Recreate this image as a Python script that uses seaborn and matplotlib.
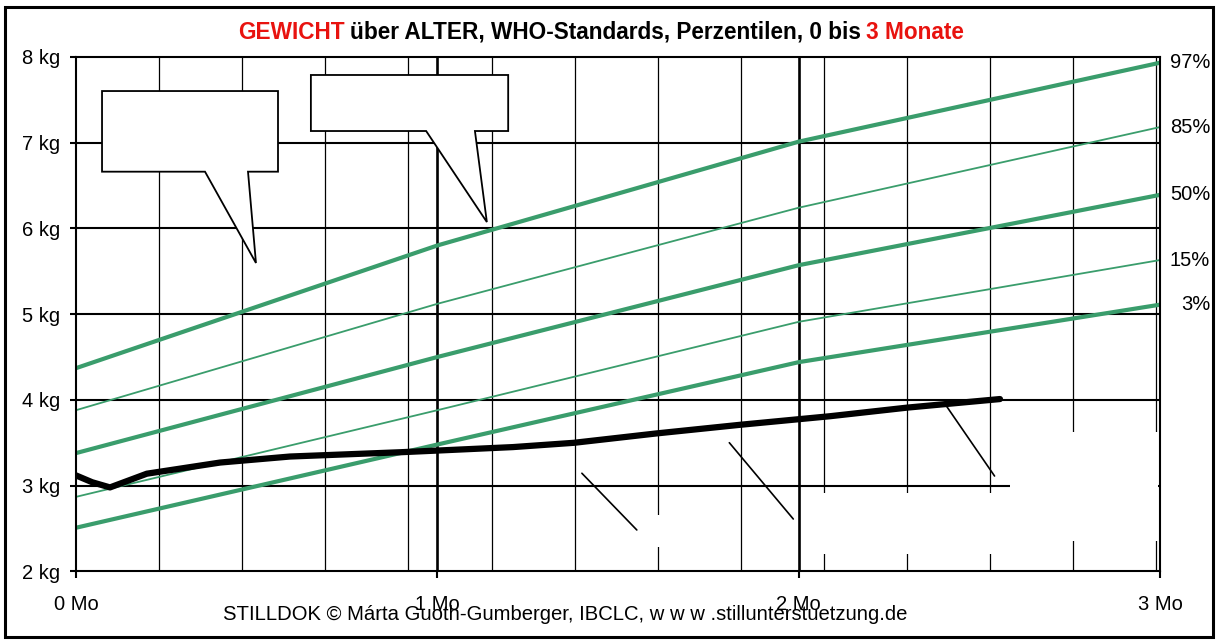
import matplotlib
matplotlib.use("Agg")
import matplotlib.pyplot as plt
from matplotlib.patches import Polygon, Rectangle
import pandas as pd
import seaborn as sns

# WHO-Perzentilen (kg) über Alter (Monate)
pct_months = [0, 1, 2, 3]
p97 = [4.37, 5.80, 7.01, 7.93]
p85 = [3.88, 5.12, 6.24, 7.18]
p50 = [3.38, 4.50, 5.57, 6.39]
p15 = [2.87, 3.88, 4.91, 5.63]
p3 = [2.51, 3.48, 4.44, 5.11]
pct_names = ["97%", "85%", "50%", "15%", "3%"]

# gemessenes Gewicht des Kindes
weight_months = [0.0, 0.045, 0.094, 0.196, 0.399, 0.592, 0.897, 1.002,
                 1.209, 1.378, 1.608, 1.838, 2.087, 2.300, 2.557]
weight_kg = [3.12, 3.04, 2.98, 3.14, 3.27, 3.34, 3.39, 3.41,
             3.45, 3.50, 3.61, 3.71, 3.81, 3.91, 4.01]

y_ticks = [2, 3, 4, 5, 6, 7, 8]
y_labels = [f"{v} kg" for v in y_ticks]
x_ticks = [0, 1, 2, 3]
x_labels = ["0 Mo", "1 Mo", "2 Mo", "3 Mo"]

GREEN = "#3A9D6C"
RED = "#E8130F"
sns.set_theme(style="white", rc={"text.color": "black",
                                 "xtick.color": "black",
                                 "ytick.color": "black"})
plt.rcParams["font.family"] = ["Liberation Sans", "DejaVu Sans"]

fig = plt.figure(figsize=(12.22, 6.43), dpi=100)
ax = fig.add_axes([0.0622, 0.1112, 0.8871, 0.8006])

# Raster: Wochenlinien, Monatslinien, kg-Linien
for w in range(1, 14):
    ax.axvline(w * 7 / 30.4375, color="black", lw=0.9, zorder=1)
for m in [1, 2]:
    ax.axvline(m, color="black", lw=1.9, zorder=1)
for kg in [3, 4, 5, 6, 7]:
    ax.axhline(kg, color="black", lw=1.5, zorder=1)

# weisse (leere) Textfelder
for x0, x1, y0, y1 in [(1.575, 1.82, 2.286, 2.659),
                       (2.012, 2.585, 2.204, 2.915),
                       (2.585, 2.994, 2.356, 3.626)]:
    ax.add_patch(Rectangle((x0, y0), x1 - x0, y1 - y0, facecolor="white",
                           edgecolor="none", zorder=1.5))

# Perzentilkurven
df = pd.DataFrame({"Monat": pct_months * 5,
                   "kg": p97 + p85 + p50 + p15 + p3,
                   "P": sum([[n] * len(pct_months) for n in pct_names], [])})
widths = {"97%": 3.0, "85%": 1.3, "50%": 3.0, "15%": 1.3, "3%": 3.0}
for name in pct_names:
    sub = df[df["P"] == name]
    sns.lineplot(data=sub, x="Monat", y="kg", color=GREEN, lw=widths[name],
                 ax=ax, zorder=3)
    ax.annotate(name, xy=(3, sub["kg"].iloc[-1]), xytext=(36, 0),
                textcoords="offset points", ha="right", va="center",
                fontsize=14.5, annotation_clip=False)

# Gewichtskurve
sns.lineplot(x=weight_months, y=weight_kg, color="black", lw=4.5, ax=ax,
             zorder=4)

# Sprechblasen und Hinweislinien
bubbles = [
    [(0.072, 7.600), (0.559, 7.600), (0.559, 6.660), (0.476, 6.660),
     (0.498, 5.596), (0.357, 6.660), (0.072, 6.660)],
    [(0.650, 7.787), (1.196, 7.787), (1.196, 7.134), (1.104, 7.134),
     (1.137, 6.073), (0.969, 7.134), (0.650, 7.134)],
]
for pts in bubbles:
    ax.add_patch(Polygon(pts, closed=True, facecolor="white",
                         edgecolor="black", lw=1.3, zorder=2.5))
for (xa, ya), (xb, yb) in [((1.400, 3.145), (1.552, 2.484)),
                           ((1.808, 3.501), (1.985, 2.612)),
                           ((2.410, 3.921), (2.542, 3.113))]:
    ax.plot([xa, xb], [ya, yb], color="black", lw=1.2, zorder=4.5)

ax.set_xlim(0, 3)
ax.set_ylim(2, 8)
ax.set_xticks(x_ticks)
ax.set_xticklabels(x_labels, fontsize=14.5)
ax.set_yticks(y_ticks)
ax.set_yticklabels(y_labels, fontsize=14.5)
ax.set_xlabel("")
ax.set_ylabel("")
ax.tick_params(axis="x", direction="out", length=5, width=1.5, pad=12,
               bottom=True)
ax.tick_params(axis="y", direction="out", length=4.5, width=1.5, pad=7,
               left=True)
for s in ax.spines.values():
    s.set_color("black")
    s.set_linewidth(1.5)
    s.set_zorder(5)

# Titel (mehrfarbig), zentriert bei x = 601 px
tfs = 16.3
t1 = fig.text(0, 1 - 32.5 / 643, "GEWICHT", color=RED, fontsize=tfs,
              fontweight="bold", va="center", ha="left")
t2 = fig.text(0, 0, "über ALTER, WHO-Standards, Perzentilen, 0 bis",
              fontsize=tfs, fontweight="bold", va="bottom", ha="left")
t3 = fig.text(0, 0, "3 Monate", color=RED, fontsize=tfs,
              fontweight="bold", va="bottom", ha="left")
fig.canvas.draw()
r = fig.canvas.get_renderer()
sp = 5
w1 = t1.get_window_extent(r).width
w2 = t2.get_window_extent(r).width
w3 = t3.get_window_extent(r).width
x_start = 601 - (w1 + w2 + w3 + 2 * sp) / 2
t1.set_x(x_start / 1222)
fig.canvas.draw()
b1 = t1.get_window_extent(r)
inv = fig.transFigure.inverted()
t2.set_position(inv.transform((b1.x1 + sp, b1.y0)))
t3.set_position(inv.transform((b1.x1 + 2 * sp + w2, b1.y0)))

fig.text(565 / 1222, 1 - 614 / 643,
         "STILLDOK © Márta Guoth-Gumberger, IBCLC, w w w .stillunterstuetzung.de",
         fontsize=14.6, ha="center", va="center")

fig.add_artist(Rectangle((5 / 1222, 1 - 637 / 643), 1208 / 1222, 630 / 643,
                         transform=fig.transFigure, fill=False,
                         edgecolor="black", lw=2.2))

fig.savefig("out.png", dpi=100)
